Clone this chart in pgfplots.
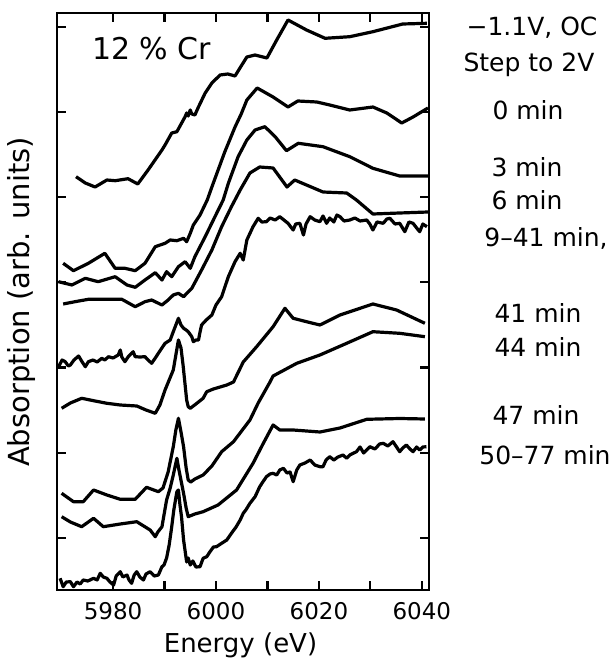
\documentclass[border=0pt]{standalone}
\usepackage{fontspec}
\setmainfont{DejaVu Sans}
\usepackage{pgfplots}
\pgfplotsset{compat=1.18}
\pgfplotscreateplotcyclelist{mono}{black,solid,line width=1.6pt,line join=round\\}
\begin{document}
\begin{tikzpicture}
\path[use as bounding box] (-28.5pt,-37.5pt) rectangle (279.5pt,295pt);
\begin{axis}[
  scale only axis, width=186pt, height=288.5pt,
  xmin=5969.1, xmax=6041.4, ymin=0, ymax=577,
  axis line style={line width=1.4pt},
  xtick={5980,5990,6000,6010,6020,6030,6040},
  xticklabels={5980,,6000,,6020,,6040},
  ytick={52,137.2,222.4,307.6,392.8,478,563.2},
  yticklabels={},
  xtick pos=both, ytick pos=both, tick align=inside,
  major tick length=4.5pt,
  every tick/.style={black, line width=1.1pt},
  /pgf/number format/assume math mode=true,
  xticklabel style={font=\fontsize{11.5}{13}\selectfont, anchor=base, yshift=-14.5pt},
  no markers,
  cycle list name=mono,
]
% -1.1V, OC
\addplot coordinates {(5972.8,413.3)(5974.6,407)(5976.5,403)(5978.8,410)(5980.4,409.3)(5982.9,411.3)(5984.8,406)(5986.8,420)(5989.5,440)(5990.1,445)(5991.4,457)(5992.4,458.3)(5994.0,473.3)(5994.3,477)(5994.6,474)(5995.0,480)(5995.3,476)(5995.9,475)(5996.5,482)(5997.9,497)(5999.2,507)(6000.8,515)(6002.3,516)(6003.7,514)(6004.9,524)(6006.0,533)(6007.6,535)(6009.9,532)(6011.8,550)(6014.0,570)(6017.6,560)(6021.2,551.7)(6026.0,553.3)(6030.5,558.3)(6036.3,566)(6041.0,566.7)};
% 0 min
\addplot coordinates {(5970.3,326.7)(5972.3,319.3)(5975.2,326.7)(5978.4,336.7)(5980.4,321.7)(5982.3,321.7)(5984.3,319.3)(5986.2,326.7)(5988.2,343.3)(5990.1,346.7)(5991.1,350)(5992.4,349.3)(5993.7,351.7)(5994.3,348.3)(5995.0,356.7)(5995.6,365)(5996.9,375)(5998.3,390)(5999.2,403)(6001.7,438)(6003.7,463)(6004.9,476)(6006.0,490)(6008.0,502)(6011.1,493)(6014.0,483)(6015.9,489)(6019.6,488)(6022.1,485)(6026.0,480)(6030.5,483)(6033.2,477)(6036.1,467)(6038.3,473)(6041.2,482)};
% 3 min
\addplot coordinates {(5969.4,308.3)(5972.0,305)(5974.6,311.7)(5977.1,308.3)(5980.4,313.3)(5982.7,305)(5984.3,302.7)(5986.2,310)(5988.2,317.3)(5989.5,310)(5990.4,318.3)(5991.4,313.3)(5992.7,323.3)(5994.0,328.3)(5995.0,321.7)(5995.9,333.3)(5997.9,353.3)(5999.8,373.3)(6001.4,390)(6002.4,406.7)(6004.3,433.3)(6006.0,450)(6007.6,460)(6009.5,463.3)(6011.5,453.3)(6013.7,439.3)(6016.0,446.7)(6020.8,443.3)(6026.0,433.3)(6030.5,421.7)(6035.7,414)(6041.2,414)};
% 6 min
\addplot coordinates {(5970.3,286)(5972.6,288.3)(5975.2,290.7)(5978.4,290.7)(5981.7,290.7)(5984.3,283.3)(5986.2,288.3)(5987.5,290)(5989.5,285)(5990.7,290)(5991.7,295)(5992.7,296.7)(5993.7,293.3)(5995.3,301.7)(5997.2,320)(5999.2,340)(6001.1,363.3)(6003.0,383.3)(6004.7,400)(6006.6,417)(6008.5,423)(6011.1,422)(6013.8,403)(6015.3,410)(6020.8,398)(6025.4,397)(6027.3,390)(6030.5,376)(6035.7,377)(6041.2,378)};
% 9-41 min
\addplot coordinates {(5969.4,223.3)(5970.1,230)(5970.7,228.3)(5971.3,224)(5971.7,225)(5972.4,230)(5973.3,234)(5974.0,228)(5974.6,223.3)(5975.2,228.3)(5976.1,230)(5976.9,228)(5977.8,231.7)(5978.4,230)(5979.1,233.3)(5980.0,232)(5981.0,235)(5981.4,240)(5981.7,233)(5982.3,228.3)(5982.9,233)(5983.9,238.3)(5984.3,233.3)(5985.2,233)(5986.2,233.3)(5986.8,230)(5987.5,226.7)(5988.2,232)(5988.8,236.7)(5990.1,246.7)(5991.1,250)(5991.7,258.3)(5992.2,265)(5992.7,271.7)(5993.2,265)(5993.7,261.7)(5994.2,260)(5994.6,258.3)(5995.3,253.3)(5995.6,248.3)(5996.1,250)(5996.6,250)(5996.9,258)(5997.2,265)(5998.1,270)(5999.2,275)(6000.0,285)(6001.1,293.3)(6002.4,313.3)(6003.7,328.3)(6004.7,336.7)(6005.3,330)(6006.0,350)(6007.2,363.3)(6008.2,371.7)(6008.9,368)(6009.8,368.3)(6010.5,372)(6011.5,370)(6012.4,373.3)(6013.2,370)(6014.0,366.7)(6015.0,360)(6015.5,366)(6016.3,366.7)(6017.0,355)(6017.5,366)(6018.3,373.3)(6019.2,370)(6020.2,368.3)(6020.8,374)(6021.5,366.7)(6022.1,372)(6022.9,368)(6023.5,375)(6024.1,373.3)(6024.9,369)(6026.0,370)(6027.0,372)(6028.0,369)(6029.3,370)(6029.9,366)(6030.5,360)(6031.3,368)(6032.5,366.7)(6033.2,371)(6033.8,371.7)(6034.8,366)(6035.7,366.7)(6036.7,358.3)(6037.5,368)(6038.3,366.7)(6039.0,362)(6039.6,358.3)(6040.2,366)(6041.0,363.3)};
% 41 min
\addplot coordinates {(5970.0,181.7)(5971.7,187)(5973.9,191.7)(5976.5,189)(5978.8,186.7)(5981.4,185)(5984.6,184)(5986.4,180)(5988.2,176.7)(5989.1,185)(5990.1,200)(5990.9,210)(5991.7,220)(5992.2,235)(5992.7,250)(5993.2,242)(5993.6,225)(5994.0,205)(5994.3,190)(5994.6,183.3)(5995.0,181.7)(5996.1,186)(5997.5,191.7)(5998.2,198.3)(5999.5,201)(6002.1,205)(6003.4,208)(6005.3,228)(6007.9,243.3)(6011.1,263.3)(6013.4,281.7)(6015.0,271.7)(6017.6,268.3)(6020.2,265)(6024.1,275)(6030.5,286)(6035.1,280)(6040.6,266.7)};
% 44 min
\addplot coordinates {(5970.0,96.7)(5972.3,88.3)(5974.2,88.3)(5976.2,100)(5978.8,95)(5981.4,90.7)(5984.3,90.7)(5986.5,102.7)(5988.8,98.3)(5989.7,102)(5990.7,118)(5991.7,143.3)(5992.2,160)(5992.7,171.7)(5993.2,158)(5993.7,143.3)(5994.2,122)(5994.6,110)(5995.1,108)(5995.9,111)(5997.5,115)(5999.2,124)(6001.1,138.3)(6003.4,148.3)(6006.6,170)(6008.2,187)(6010.5,208)(6011.1,214)(6015.7,226.7)(6020.2,235)(6025.4,246.7)(6030.5,258.3)(6035.7,256.7)(6040.6,253.3)};
% 47 min
\addplot coordinates {(5970.0,73.3)(5971.7,68)(5973.9,63.3)(5976.2,71.7)(5978.1,63.3)(5981.4,66)(5984.6,68.3)(5987.2,60)(5988.2,53.3)(5988.7,58)(5989.5,63.3)(5990.4,90)(5991.1,102)(5991.7,115)(5992.4,131.7)(5992.8,120)(5993.7,96.7)(5994.2,82)(5994.6,73.3)(5995.9,76)(5997.5,78.3)(6000.4,85)(6004.0,100)(6007.2,126.7)(6009.2,146.7)(6011.1,165)(6012.4,160)(6015.0,160)(6020.2,158)(6024.1,162)(6029.3,170.7)(6035.7,171.5)(6040.6,171)};
% 50-77 min
\addplot coordinates {(5969.7,11.7)(5970.3,3.3)(5970.9,8)(5971.7,8.3)(5972.3,3.3)(5973.0,8)(5973.6,6)(5974.2,10)(5975.1,9)(5976.2,11.7)(5976.9,10)(5977.5,16.7)(5978.1,13)(5978.8,11.7)(5979.4,8)(5980.1,5)(5980.6,14)(5981.4,18.3)(5981.9,13)(5982.7,15)(5983.1,10)(5983.6,6.7)(5984.1,15)(5984.6,18.3)(5985.2,13)(5985.9,10)(5986.4,16)(5987.2,18.3)(5988.0,14)(5988.8,15)(5989.5,23.3)(5989.9,25)(5990.4,32)(5990.9,45)(5991.4,63.3)(5991.8,80)(5992.4,98.3)(5992.7,100)(5993.0,85)(5993.3,73.3)(5993.7,50)(5994.3,28)(5994.6,32)(5995.0,25)(5995.5,29)(5996.1,23)(5996.9,23.3)(5997.5,31.7)(5998.2,33.3)(5998.8,38)(5999.5,43)(6000.1,43.3)(6001.1,46.7)(6002.1,50)(6003.0,56.7)(6003.9,63)(6004.7,70)(6005.3,76.7)(6005.8,80)(6006.6,86.7)(6007.6,93.3)(6008.5,103.3)(6009.1,108)(6009.8,113.3)(6010.5,116)(6011.1,116.7)(6011.8,115)(6012.4,120)(6013.1,121.7)(6013.8,117)(6014.4,118)(6015.0,108.3)(6015.7,120)(6016.3,125)(6017.3,127)(6018.3,130)(6019.2,125)(6020.2,123.3)(6020.8,123.3)(6021.4,130)(6022.1,133.3)(6022.9,130)(6023.7,133)(6024.7,135)(6025.4,131.7)(6026.0,135)(6027.3,138.3)(6028.0,143)(6028.7,137)(6029.9,143.3)(6030.9,141)(6031.8,146)(6032.5,146.7)(6033.4,144)(6034.4,148.3)(6035.1,143)(6035.7,138.3)(6036.3,142)(6037.0,145)(6037.7,141)(6038.3,138.3)(6039.0,143)(6039.6,140)(6040.2,143)(6040.9,143.3)};
\end{axis}
\node[font=\fontsize{15}{18}\selectfont] at (47.4pt,270.5pt) {12 \% Cr};
\node[anchor=base, font=\fontsize{13}{15}\selectfont] at (91.75pt,-31pt) {Energy (eV)};
\node[rotate=90, font=\fontsize{14.5}{16}\selectfont] at (-17.5pt,144pt) {Absorption (arb. units)};
\begin{scope}[every node/.style={font=\fontsize{12.5}{15}\selectfont}]
\node at (237.5pt,281pt) {−1.1V, OC};
\node at (236pt,262.5pt) {Step to 2V};
\node at (235.5pt,240pt) {0 min};
\node at (235pt,211.5pt) {3 min};
\node at (235pt,195pt) {6 min};
\node at (244.5pt,176pt) {9--41 min,};
\node at (240.5pt,138.5pt) {41 min};
\node at (240.5pt,121.5pt) {44 min};
\node at (239.5pt,87.5pt) {47 min};
\node at (244pt,67.5pt) {50--77 min};
\end{scope}
\end{tikzpicture}
\end{document}
